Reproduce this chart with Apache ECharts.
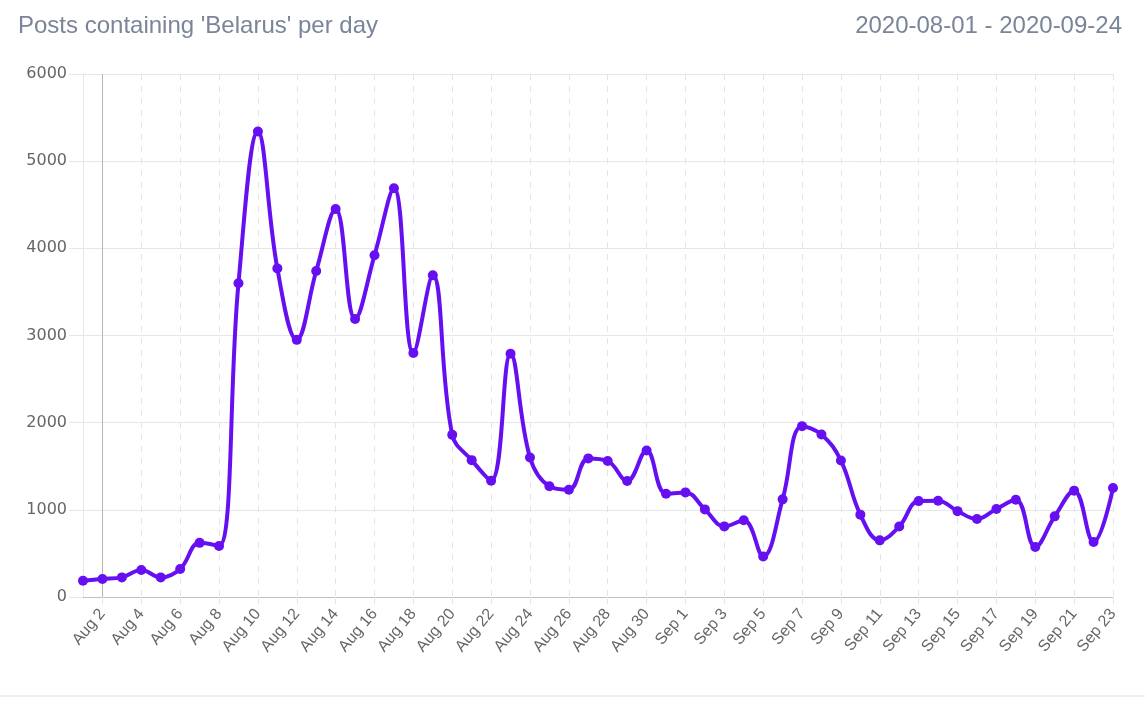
<!DOCTYPE html>
<html>
<head>
<meta charset="utf-8">
<script src="https://cdn.jsdelivr.net/npm/echarts@6/dist/echarts.min.js"></script>
<style>
  html, body { margin: 0; padding: 0; background: #fff; }
  #chart { width: 1145px; height: 702px; }
</style>
</head>
<body>
<div id="chart"></div>
<script>
const days = [
  'Aug 1', 'Aug 2', 'Aug 3', 'Aug 4', 'Aug 5', 'Aug 6', 'Aug 7', 'Aug 8', 'Aug 9', 'Aug 10',
  'Aug 11', 'Aug 12', 'Aug 13', 'Aug 14', 'Aug 15', 'Aug 16', 'Aug 17', 'Aug 18', 'Aug 19', 'Aug 20',
  'Aug 21', 'Aug 22', 'Aug 23', 'Aug 24', 'Aug 25', 'Aug 26', 'Aug 27', 'Aug 28', 'Aug 29', 'Aug 30',
  'Aug 31', 'Sep 1', 'Sep 2', 'Sep 3', 'Sep 4', 'Sep 5', 'Sep 6', 'Sep 7', 'Sep 8', 'Sep 9',
  'Sep 10', 'Sep 11', 'Sep 12', 'Sep 13', 'Sep 14', 'Sep 15', 'Sep 16', 'Sep 17', 'Sep 18', 'Sep 19',
  'Sep 20', 'Sep 21', 'Sep 22', 'Sep 23'
]

const posts = [
  187, 207, 225, 310, 225, 322, 621, 586, 3600, 5340,
  3770, 2950, 3740, 4450, 3190, 3920, 4690, 2800, 3690, 1860,
  1570, 1335, 2790, 1600, 1270, 1230, 1590, 1560, 1330, 1680,
  1185, 1200, 1005, 810, 880, 465, 1120, 1960, 1865, 1565,
  945, 650, 808, 1100, 1105, 985, 895, 1010, 1115, 575,
  925, 1220, 630, 1250
]

const yTicks = [0, 1000, 2000, 3000, 4000, 5000, 6000]

const titleText = "Posts containing 'Belarus' per day"
const rangeText = '2020-08-01 - 2020-09-24'

const FONT = '"Liberation Sans", Arial, sans-serif'
const everyOther = (idx) => idx % 2 === 1

const chart = echarts.init(document.getElementById('chart'))

const option = {
  backgroundColor: '#fff',
  animation: false,
  title: [
    {
      text: titleText,
      left: 13,
      top: 9,
      textStyle: { fontFamily: FONT, fontSize: 24, fontWeight: 'normal', color: '#7a8599' }
    },
    {
      text: rangeText,
      right: 18,
      top: 9,
      textStyle: { fontFamily: FONT, fontSize: 24, fontWeight: 'normal', color: '#7a8599' }
    }
  ],
  grid: {
    left: 83,
    right: 32,
    top: 74,
    bottom: 105,
    containLabel: false,
    outerBoundsMode: 'none'
  },
  xAxis: {
    type: 'category',
    data: days,
    boundaryGap: false,
    axisLine: { show: true, lineStyle: { color: '#bfbfbf', width: 1 } },
    axisTick: {
      show: true,
      interval: everyOther,
      length: 7,
      lineStyle: { color: '#e6e6e6' }
    },
    axisLabel: {
      interval: everyOther,
      rotate: 50,
      margin: 14,
      color: '#666',
      fontFamily: FONT,
      fontSize: 16
    },
    splitLine: {
      show: true,
      interval: everyOther,
      lineStyle: { color: '#e5e5e5', type: [6, 6] }
    }
  },
  yAxis: {
    type: 'value',
    min: 0,
    max: yTicks[yTicks.length - 1],
    interval: yTicks[1] - yTicks[0],
    axisLine: { show: true, lineStyle: { color: '#e6e6e6' } },
    axisTick: { show: true, length: 14, lineStyle: { color: '#e6e6e6' } },
    axisLabel: {
      margin: 16,
      color: '#666',
      fontFamily: '"DejaVu Sans", sans-serif',
      fontSize: 16,
      formatter: (v) => String(v)
    },
    splitLine: { show: true, lineStyle: { color: '#e6e6e6' } }
  },
  graphic: [
    {
      type: 'rect',
      left: 0,
      top: 695,
      shape: { width: 1145, height: 2 },
      style: { fill: '#efefef' },
      silent: true
    }
  ],
  series: [
    {
      name: 'Posts',
      type: 'line',
      data: posts,
      smooth: 0.4,
      symbol: 'circle',
      symbolSize: 10,
      showAllSymbol: true,
      lineStyle: { color: '#6610f2', width: 4 },
      itemStyle: { color: '#6610f2' },
      markLine: {
        silent: true,
        symbol: ['none', 'none'],
        label: { show: false },
        lineStyle: { color: '#b5b5b5', type: 'solid', width: 1 },
        data: [{ xAxis: days[1] }],
        z: 1
      },
      z: 3
    }
  ]
}

chart.setOption(option)
</script>
</body>
</html>
